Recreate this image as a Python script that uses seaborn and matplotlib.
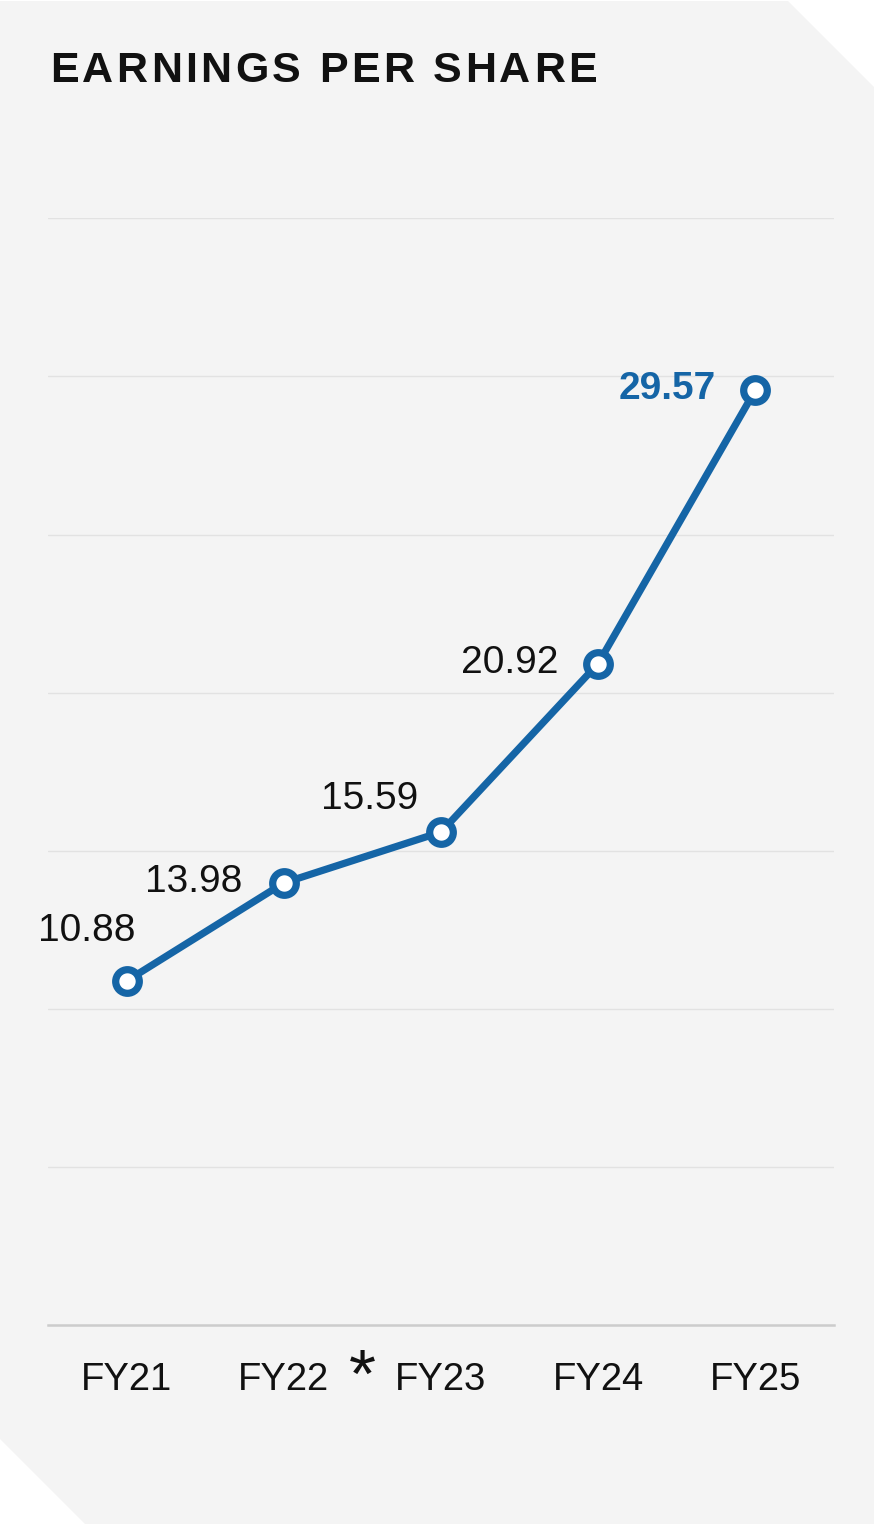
import matplotlib
matplotlib.use("Agg")
import matplotlib.pyplot as plt
import matplotlib.transforms as mtransforms
from matplotlib.patches import Polygon
import pandas as pd
import seaborn as sns

# Data
years = ["FY21", "FY22", "FY23", "FY24", "FY25"]
eps = [10.88, 13.98, 15.59, 20.92, 29.57]
value_labels = ["10.88", "13.98", "15.59", "20.92", "29.57"]
title = "EARNINGS PER SHARE"

sns.set_theme(style="white")
plt.rcParams["font.family"] = ["Liberation Sans", "DejaVu Sans"]

W, H, DPI = 874, 1524, 100
fig = plt.figure(figsize=(W / DPI, H / DPI), dpi=DPI, facecolor="white")

# Background layer: light panel with clipped top-right and bottom-left corners
bg = fig.add_axes([0, 0, 1, 1], zorder=-1)
bg.set_xlim(0, W)
bg.set_ylim(H, 0)
bg.axis("off")
panel_pts = [(0, 1), (788, 1), (874, 87), (874, 1524), (85, 1524), (0, 1439)]
bg.add_patch(Polygon(panel_pts, closed=True, facecolor="#f4f4f4", edgecolor="none"))

ax = fig.add_axes([48 / W, 1 - 1325 / H, (834 - 48) / W, (1325 - 218.3) / H], zorder=1)
ax.set_facecolor("none")

df = pd.DataFrame({"year": years, "eps": eps})
blue = "#1565a6"
sns.lineplot(data=df, x="year", y="eps", ax=ax, color=blue, lw=5.2,
             marker="o", markersize=17, markerfacecolor="white",
             markeredgecolor=blue, markeredgewidth=5.2, sort=False, zorder=5,
             clip_on=False)

ax.set_xlim(-0.5, 4.5)
ax.set_ylim(0, 35)
ax.set_yticks([5, 10, 15, 20, 25, 30, 35])
ax.yaxis.grid(True, color="#e2e2e2", lw=1.0)
ax.set_axisbelow(True)
ax.tick_params(axis="y", left=False, labelleft=False)
ax.tick_params(axis="x", bottom=False, pad=21, labelsize=27.5, labelcolor="#111111")
for s in ["top", "left", "right"]:
    ax.spines[s].set_visible(False)
ax.spines["bottom"].set_color("#cccccc")
ax.spines["bottom"].set_linewidth(1.8)
ax.set_xlabel("")
ax.set_ylabel("")

# Value labels: (dx, dy) offsets in pixels
offsets = [(9, 50), (-41, 1), (-23, 33), (-40, 1), (-40, 1)]
for i, (val, txt) in enumerate(zip(eps, value_labels)):
    dx, dy = offsets[i]
    last = i == len(eps) - 1
    ax.annotate(txt, xy=(i, val), xytext=(dx * 0.72, dy * 0.72),
                textcoords="offset points", ha="right", va="center",
                fontsize=28, color=blue if last else "#111111",
                fontweight="bold" if last else "normal", zorder=6)

# Footnote marker between FY22 and FY23
trans = mtransforms.blended_transform_factory(ax.transData, bg.transData)
ax.text(1.5, 1397, "*", transform=trans, ha="center", va="baseline",
        fontsize=50, color="#111111")

# Title with letter tracking
renderer = fig.canvas.get_renderer()
x = 50.0
tracking = 3.4
for ch in title:
    t = bg.text(x, 82, ch, ha="left", va="baseline", fontsize=31,
                fontweight="bold", color="#111111")
    if ch == " ":
        w = 31 * 0.278 * DPI / 72
    else:
        w = t.get_window_extent(renderer).width
    x += w + tracking

fig.savefig("out.png", dpi=DPI, facecolor="white")
